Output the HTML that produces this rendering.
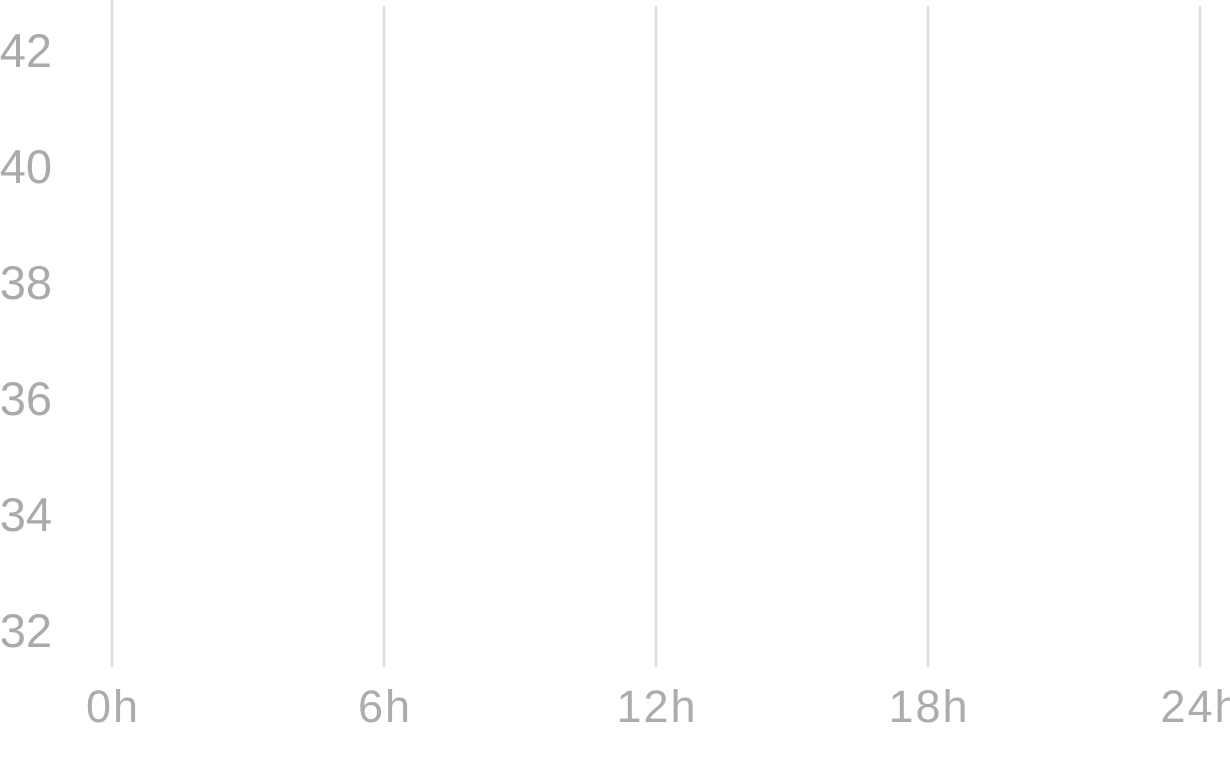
<!DOCTYPE html>
<html><head><meta charset="utf-8"><style>
html,body{margin:0;padding:0;background:#fff;overflow:hidden}
svg{display:block}
</style></head><body>
<svg id="chart" width="1230" height="764" viewBox="0 0 1230 764" xmlns="http://www.w3.org/2000/svg"></svg>
<script>
const xTicks = [0, 6, 12, 18, 24];
const xTickLabels = ["0h", "6h", "12h", "18h", "24h"];
const yTicks = [32, 34, 36, 38, 40, 42];
const yTickLabels = ["32", "34", "36", "38", "40", "42"];

const svg = document.getElementById('chart');
const NS = 'http://www.w3.org/2000/svg';
function x(v){ return 112 + (v - 0) * (1088 / 24); }
function y(v){ return 632 - (v - 32) * (580 / 10); }

xTicks.forEach((t, i) => {
  const l = document.createElementNS(NS, 'line');
  
  
  l.setAttribute('x1', x(t)); l.setAttribute('x2', x(t));
  l.setAttribute('y1', i === 0 ? 0 : 6); l.setAttribute('y2', 667);
  l.setAttribute('stroke', '#dddddd'); l.setAttribute('stroke-width', '2.5');
  svg.appendChild(l);
  const tx = document.createElementNS(NS, 'text');
  
  
  tx.setAttribute('x', x(t) + 1); tx.setAttribute('y', 722);
  tx.setAttribute('text-anchor', 'middle');
  tx.setAttribute('letter-spacing', '2');
  tx.setAttribute('font-family', 'Liberation Sans, sans-serif');
  tx.setAttribute('font-size', '45'); tx.setAttribute('fill', '#acacac');
  tx.textContent = xTickLabels[i];
  svg.appendChild(tx);
});
yTicks.forEach((t, i) => {
  const tx = document.createElementNS(NS, 'text');
  
  
  tx.setAttribute('x', 52); tx.setAttribute('y', y(t) + 15);
  tx.setAttribute('text-anchor', 'end');
  tx.setAttribute('font-family', 'Liberation Sans, sans-serif');
  tx.setAttribute('font-size', '47'); tx.setAttribute('fill', '#aaaaaa');
  tx.textContent = yTickLabels[i];
  svg.appendChild(tx);
});
</script>
</body></html>
